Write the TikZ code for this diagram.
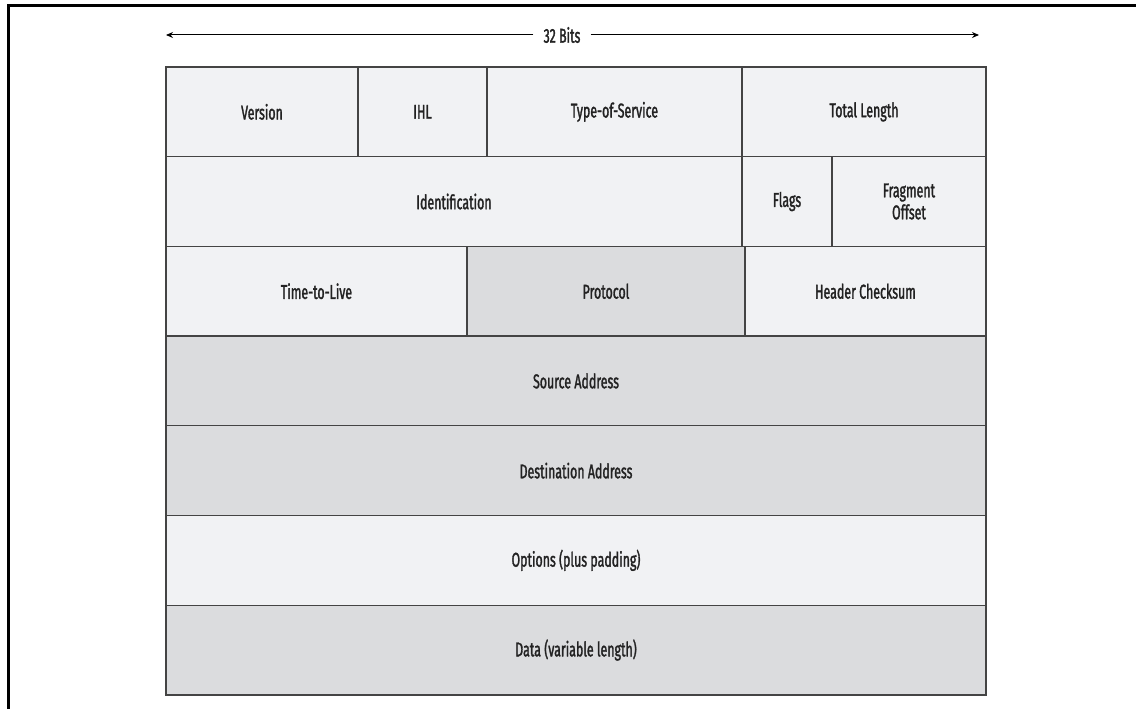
\documentclass[tikz,border=0pt]{standalone}
\usepackage{fontspec}
\setmainfont{Fira Sans}[FakeStretch=0.62, FakeBold=1.5]
\usetikzlibrary{arrows.meta}
\definecolor{lightfill}{HTML}{F1F2F4}
\definecolor{darkfill}{HTML}{DBDCDE}
\definecolor{edge}{HTML}{444444}
\definecolor{txt}{HTML}{222222}
\tikzset{
  cell/.style={draw=edge, line width=1.3pt, inner sep=0pt, outer sep=0pt, minimum height=89.7pt,
    font=\fontsize{20}{22}\selectfont, text=txt, align=center},
  lcell/.style={cell, fill=lightfill},
  dcell/.style={cell, fill=darkfill},
  dim/.style={draw=black, line width=1pt, -{Stealth[length=7pt,width=6pt]}},
}
\begin{document}
\begin{tikzpicture}[x=1pt,y=-1pt]
\useasboundingbox (0,0) rectangle (1136,709);
\fill[white] (0,0) rectangle (1136,709);
\draw[line width=3pt, black] (8,720) -- (8,6) -- (1145,6);
% dimension arrow
\node[font=\fontsize{20}{22}\selectfont, text=txt, inner xsep=10pt, inner ysep=0pt] (bits) at (562,35) {32 Bits};
\coordinate (al) at (166,35);
\coordinate (ar) at (979,35);
\draw[dim] (bits.west) -- (al);
\draw[dim] (bits.east) -- (ar);
% row 1
\node[lcell, minimum width=192pt] (ver) at (262,111.85) {Version};
\node[lcell, minimum width=129pt] (ihl) at (422.5,111.85) {IHL};
\node[lcell, minimum width=255pt] (tos) at (614.5,111.85) {Type-of-Service};
\node[lcell, minimum width=244pt] (tl) at (864,111.85) {Total Length};
% row 2
\node[lcell, minimum width=576pt] (id) at (454,201.55) {Identification};
\node[lcell, minimum width=90pt] (fl) at (787,201.55) {Flags};
\node[lcell, minimum width=154pt] (fo) at (909,201.55) {Fragment\\[0pt]Offset};
% row 3
\node[lcell, minimum width=301pt] (ttl) at (316.5,291.25) {Time-to-Live};
\node[dcell, minimum width=278pt] (pr) at (606,291.25) {Protocol};
\node[lcell, minimum width=241pt] (hc) at (865.5,291.25) {Header Checksum};
% full rows
\node[dcell, minimum width=820pt] (src) at (576,380.95) {Source Address};
\node[dcell, minimum width=820pt] (dst) at (576,470.65) {Destination Address};
\node[lcell, minimum width=820pt] (opt) at (576,560.35) {Options (plus padding)};
\node[dcell, minimum width=820pt] (data) at (576,650.05) {Data (variable length)};
\end{tikzpicture}
\end{document}
